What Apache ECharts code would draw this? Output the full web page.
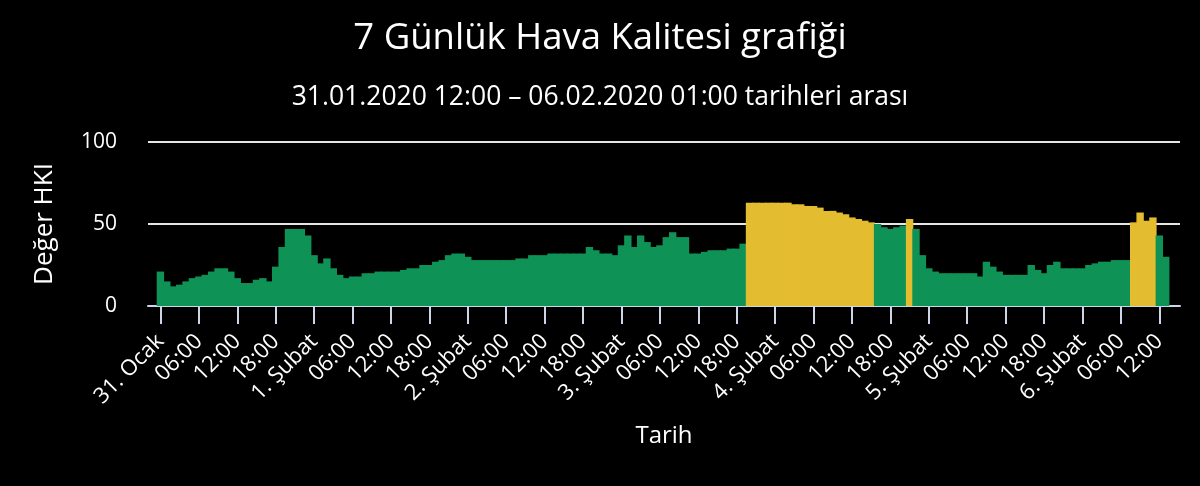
<!DOCTYPE html>
<html><head><meta charset="utf-8">
<script src="https://cdn.jsdelivr.net/npm/echarts@6/dist/echarts.min.js"></script>
<style>html,body{margin:0;padding:0;background:#000}#c{width:1200px;height:486px}</style>
</head><body><div id="c"></div><script>
const titleText = "7 Günlük Hava Kalitesi grafiği";
const subtitleText = "31.01.2020 12:00 – 06.02.2020 01:00 tarihleri arası";
const xAxisName = "Tarih";
const yAxisName = "Değer HKI";
// tick labels, one every 6 hours starting 31 Jan 00:00
const tickLabels = ["31. Ocak","06:00","12:00","18:00","1. Şubat","06:00","12:00","18:00",
  "2. Şubat","06:00","12:00","18:00","3. Şubat","06:00","12:00","18:00",
  "4. Şubat","06:00","12:00","18:00","5. Şubat","06:00","12:00","18:00",
  "6. Şubat","06:00","12:00"];
const tickHours = [0,6,12,18,24,30,36,42,48,54,60,66,72,78,84,90,96,102,108,114,120,126,132,138,144,150,156];
// hourly AQI values from 31 Jan 00:00
const aqiValues = [
  21,15,12,13,15,17,18,19,21,23,23,21,17,14,14,16,17,15,24,36,47,47,47,43,
  31,26,29,23,19,17,18,18,20,20,21,21,21,21,22,23,23,25,25,27,28,31,32,32,
  30,28,28,28,28,28,28,28,29,29,31,31,31,32,32,32,32,32,32,36,34,32,32,31,
  37,43,36,43,39,36,37,42,45,42,42,32,32,33,34,34,34,35,35,38,63,63,63,63,
  63,63,63,62,62,61,61,60,58,58,57,56,54,53,52,51,50,48,47,48,49,53,47,31,
  23,21,20,20,20,20,20,20,18,27,24,21,19,19,19,19,25,22,20,25,27,23,23,23,
  23,25,26,27,27,28,28,28,51,57,52,54,43,30];
const goodColor = "#0f9255";
const moderateColor = "#e4bc30";
const FONT = "'Open Sans', 'Noto Sans', sans-serif";

const labelMap = {};
tickHours.forEach((h, i) => { labelMap[h] = tickLabels[i]; });

const chart = echarts.init(document.getElementById('c'));
chart.setOption({
  backgroundColor: '#000',
  animation: false,
  title: [
    { text: titleText, left: 'center', top: 15,
      textStyle: { color: '#fff', fontSize: 36.5, fontWeight: 'normal', fontFamily: FONT } },
    { text: subtitleText, left: 'center', top: 79,
      textStyle: { color: '#fff', fontSize: 26.5, fontWeight: 'normal', fontFamily: FONT } }
  ],
  grid: { left: 148, right: 20, top: 142, bottom: 180 },
  xAxis: {
    type: 'value', min: -1.94, max: 159.23,
    name: xAxisName, nameLocation: 'middle', nameGap: 118,
    nameTextStyle: { color: '#fff', fontSize: 24, fontFamily: FONT },
    axisLine: { show: true, lineStyle: { color: '#ccd6eb', width: 2 } },
    axisTick: { show: true, customValues: tickHours, length: 18, lineStyle: { color: '#ccd6eb', width: 2 } },
    axisLabel: { customValues: tickHours, rotate: 45, margin: 32, padding: [10, 0, 0, 0],
      color: '#fff', fontSize: 22, fontFamily: FONT,
      formatter: v => labelMap[v] },
    splitLine: { show: false }
  },
  yAxis: {
    type: 'value', min: 0, max: 100, interval: 50,
    name: yAxisName, nameLocation: 'middle', nameGap: 90, nameRotate: 90,
    nameTextStyle: { color: '#fff', fontSize: 26, fontFamily: FONT },
    axisLine: { show: false }, axisTick: { show: false },
    axisLabel: { color: '#fff', fontSize: 21, fontFamily: FONT, margin: 31 },
    splitLine: { lineStyle: { color: '#e6e6e6', width: 2 } }
  },
  series: [{
    type: 'bar',
    barWidth: 7.4,
    data: aqiValues.map((v, i) => [i, v]),
    itemStyle: { borderWidth: 0, color: p => (p.value[1] > 50 ? moderateColor : goodColor) }
  }]
});
</script></body></html>
